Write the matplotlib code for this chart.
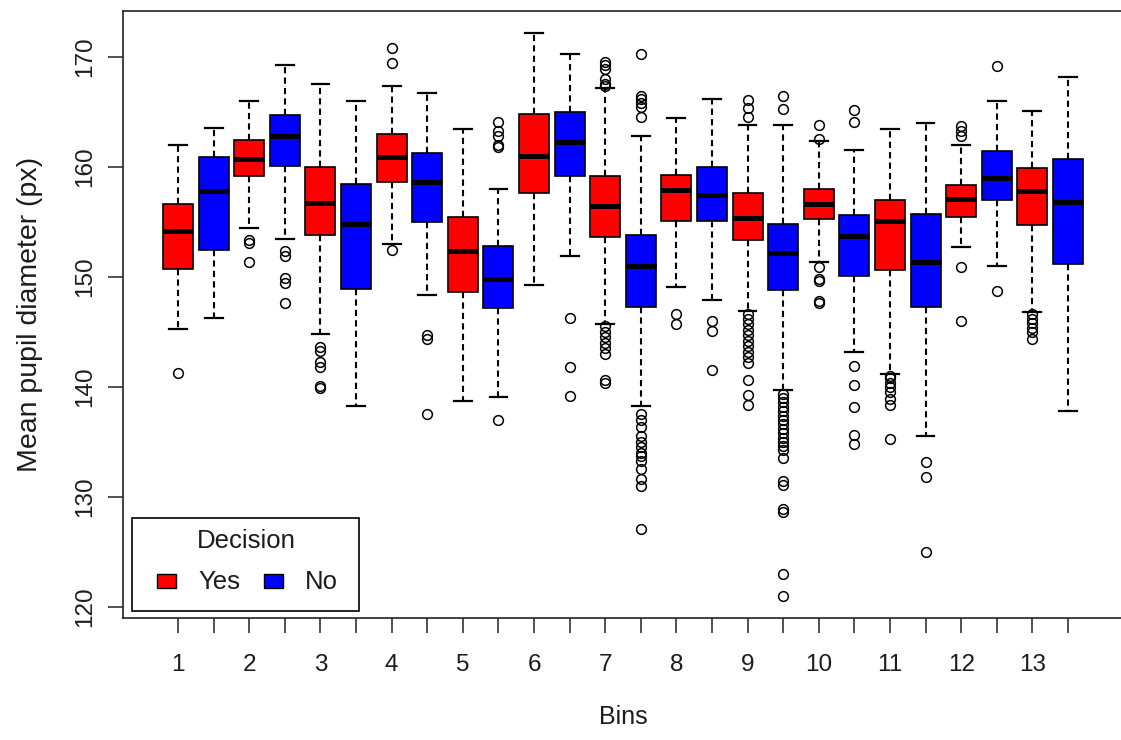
import numpy as np
import matplotlib.pyplot as plt
from matplotlib.patches import Rectangle

plt.rcParams['font.family'] = ['Liberation Sans', 'DejaVu Sans']

bins = [str(b) for b in range(1, 14)]

# Decision = Yes (red)
yes_low = [145.3, 154.5, 144.8, 153.0, 138.7, 149.3, 145.7, 149.1, 146.9, 151.4, 141.2, 152.7, 146.8]
yes_q1 = [150.7, 159.2, 153.8, 158.6, 148.6, 157.6, 153.6, 155.1, 153.4, 155.3, 150.6, 155.5, 154.7]
yes_med = [154.2, 160.7, 156.7, 160.9, 152.4, 161.0, 156.5, 157.9, 155.4, 156.6, 155.1, 157.1, 157.8]
yes_q3 = [156.6, 162.5, 160.0, 163.0, 155.5, 164.8, 159.2, 159.3, 157.6, 158.0, 157.0, 158.4, 159.9]
yes_high = [162.0, 166.0, 167.6, 167.4, 163.5, 172.2, 167.2, 164.5, 163.8, 162.4, 163.5, 162.0, 165.1]
yes_out = [
    [141.3],
    [153.4, 153.1, 151.4],
    [143.6, 143.3, 142.3, 141.8, 140.1, 139.9],
    [170.8, 169.5, 152.5],
    [],
    [],
    [169.6, 169.3, 168.9, 168.0, 167.6, 167.4, 145.5, 145.0, 144.5, 144.0, 143.5, 143.0, 140.6, 140.4],
    [146.6, 145.7],
    [166.1, 165.4, 164.6, 146.6, 146.2, 145.7, 145.2, 144.7, 144.2, 143.7, 143.2, 142.7, 142.2,
     140.6, 139.3, 138.4],
    [163.8, 162.6, 150.9, 149.8, 149.6, 147.8, 147.6],
    [141.0, 140.8, 140.4, 140.0, 139.5, 138.9, 138.4, 135.3],
    [163.7, 163.3, 162.8, 150.9, 146.0],
    [146.6, 146.2, 145.8, 145.4, 145.0, 144.4],
]

# Decision = No (blue)
no_low = [146.3, 153.5, 138.3, 148.4, 139.1, 151.9, 138.3, 147.9, 139.7, 143.2, 135.5, 151.0, 137.8]
no_q1 = [152.5, 160.1, 148.9, 155.0, 147.2, 159.2, 147.3, 155.1, 148.8, 150.1, 147.3, 157.0, 151.2]
no_med = [157.8, 162.8, 154.8, 158.6, 149.8, 162.3, 151.0, 157.5, 152.2, 153.7, 151.4, 159.0, 156.8]
no_q3 = [160.9, 164.7, 158.5, 161.3, 152.8, 165.0, 153.8, 160.0, 154.8, 155.6, 155.7, 161.5, 160.7]
no_high = [163.6, 169.3, 166.0, 166.7, 158.0, 170.3, 162.8, 166.2, 163.8, 161.6, 164.0, 166.0, 168.2]
no_out = [
    [],
    [152.4, 151.9, 149.9, 149.5, 147.6],
    [],
    [144.7, 144.4, 137.5],
    [164.1, 163.3, 162.8, 162.0, 161.8, 137.0],
    [146.3, 141.8, 139.2],
    [170.3, 166.5, 166.2, 165.8, 165.5, 164.6, 137.5, 137.0, 136.4, 135.5, 135.0, 134.5, 134.0,
     133.7, 133.3, 132.5, 131.6, 131.0, 127.1],
    [146.0, 145.1, 141.5],
    [166.5, 165.3, 139.4, 139.0, 138.6, 138.2, 137.8, 137.4, 137.0, 136.6, 136.2, 135.8, 135.4,
     135.0, 134.6, 134.3, 133.5, 131.4, 131.1, 128.9, 128.6, 123.0, 121.0],
    [165.2, 164.1, 141.9, 140.2, 138.2, 135.6, 134.8],
    [133.2, 131.8, 125.0],
    [169.2, 148.7],
    [],
]

legend_title = 'Decision'
legend_labels = ['Yes', 'No']
legend_colors = ['#ff0000', '#0000ff']

stats = []
colors = []
for i in range(len(bins)):
    stats.append(dict(whislo=yes_low[i], q1=yes_q1[i], med=yes_med[i], q3=yes_q3[i],
                      whishi=yes_high[i], fliers=yes_out[i]))
    colors.append(legend_colors[0])
    stats.append(dict(whislo=no_low[i], q1=no_q1[i], med=no_med[i], q3=no_q3[i],
                      whishi=no_high[i], fliers=no_out[i]))
    colors.append(legend_colors[1])

positions = np.arange(1, len(stats) + 1)
text_col = '#1c1c1c'

W, H = 1121, 740
ax_l, ax_t, ax_w, ax_h = 123, 11, 1000, 607

fig = plt.figure(figsize=(W / 100, H / 100), dpi=100)
ax = fig.add_axes([ax_l / W, (H - ax_t - ax_h) / H, ax_w / W, ax_h / H])

bp = ax.bxp(stats, positions=positions, widths=0.84, capwidths=0.5, patch_artist=True,
            boxprops=dict(edgecolor='black', linewidth=1.2),
            whiskerprops=dict(color='black', linewidth=1.5, linestyle=(0, (3.0, 2.0))),
            capprops=dict(color='black', linewidth=1.6),
            medianprops=dict(color='black', linewidth=3.6, solid_capstyle='butt'),
            flierprops=dict(marker='o', markerfacecolor='none', markeredgecolor='black',
                            markersize=7, markeredgewidth=1.1))
for patch, c in zip(bp['boxes'], colors):
    patch.set_facecolor(c)

ax.set_xlim(-0.545, 27.545)
ax.set_ylim(118.98, 174.2)

tick_labels = []
for b in bins:
    tick_labels += [b, '']
ax.set_xticks(positions)
ax.set_xticklabels(tick_labels)
ax.set_yticks([120, 130, 140, 150, 160, 170])
ax.set_yticklabels(['120', '130', '140', '150', '160', '170'], rotation=90, va='center')

ax.tick_params(direction='out', length=11, width=1.1, colors='#222222', labelsize=17.5,
               labelcolor=text_col)
ax.tick_params(axis='x', pad=15)
ax.tick_params(axis='y', pad=8)

for sp in ax.spines.values():
    sp.set_linewidth(1.2)
    sp.set_color('#222222')

ax.set_xlabel('Bins', fontsize=18, color=text_col)
ax.xaxis.label.set_va('center')
ax.xaxis.set_label_coords(0.5, (ax_t + ax_h - 717) / ax_h)
ax.set_ylabel('Mean pupil diameter (px)', fontsize=20.5, color=text_col)
ax.yaxis.label.set_va('center')
ax.yaxis.set_label_coords((30 - ax_l) / ax_w, 0.5)


# legend box drawn by hand (R style), placed in pixel terms of the axes
def fx(px):
    return (px - ax_l) / ax_w


def fy(py):
    return (ax_t + ax_h - py) / ax_h


ax.add_patch(Rectangle((fx(132), fy(611)), fx(359) - fx(132), fy(518) - fy(611),
                       transform=ax.transAxes, facecolor='white', edgecolor='black',
                       linewidth=1.2, zorder=5))
ax.text(fx(246), fy(541), legend_title, transform=ax.transAxes, ha='center', va='center',
        fontsize=18.5, color=text_col, zorder=6)
for sq_x, txt_x, lab, col in zip([157, 264], [198, 305], legend_labels, legend_colors):
    ax.add_patch(Rectangle((fx(sq_x), fy(588)), fx(sq_x + 19) - fx(sq_x), fy(574) - fy(588),
                           transform=ax.transAxes, facecolor=col, edgecolor='black',
                           linewidth=1, zorder=6))
    ax.text(fx(txt_x), fy(582), lab, transform=ax.transAxes, ha='left', va='center',
            fontsize=18.5, color=text_col, zorder=6)

fig.savefig('out.png', dpi=100)
